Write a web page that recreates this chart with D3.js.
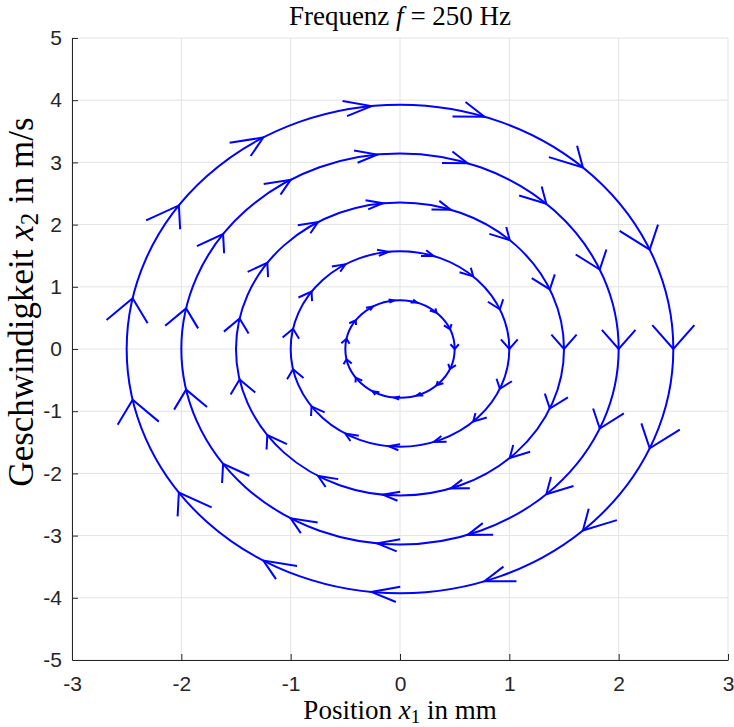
<!DOCTYPE html>
<html>
<head>
<meta charset="utf-8">
<title>Frequenz f = 250 Hz</title>
<script src="https://cdn.jsdelivr.net/npm/d3@7"></script>
<style>
body { margin: 0; background: #fff; }
.tick text { font-family: "Liberation Sans", Arial, sans-serif; }
.tex { font-family: "Liberation Serif", "Times New Roman", serif; fill: #000; }
</style>
</head>
<body>
<svg id="chart" width="734" height="727"></svg>
<script>
// amplitudes of the five trajectories
var positionAmp = [0.5, 1.0, 1.5, 2.0, 2.5];          // x1 in mm
var velocityAmp = [0.785, 1.571, 2.356, 3.142, 3.927]; // x2 in m/s
// where the arrow heads sit on every trajectory (phase angle in degrees)
var arrowPhase = [0, 24, 48, 72, 96, 120, 144, 168, 192, 216, 240, 264, 288, 312, 336];
var xTicks = [-3, -2, -1, 0, 1, 2, 3];
var yTicks = [-5, -4, -3, -2, -1, 0, 1, 2, 3, 4, 5];

var svg = d3.select('#chart');
var xs = d3.scaleLinear().domain([-3, 3]).range([72, 728]);
var ys = d3.scaleLinear().domain([-5, 5]).range([660, 38]);

// grid
svg.append('g').selectAll('line').data(xTicks).enter().append('line')
  .attr('x1', d => xs(d)).attr('x2', d => xs(d))
  .attr('y1', ys(-5)).attr('y2', ys(5))
  .attr('stroke', '#e3e3e3').attr('stroke-width', 1);
svg.append('g').selectAll('line').data(yTicks).enter().append('line')
  .attr('y1', d => ys(d)).attr('y2', d => ys(d))
  .attr('x1', xs(-3)).attr('x2', xs(3))
  .attr('stroke', '#e3e3e3').attr('stroke-width', 1);

// axes (ticks pointing inwards)
var xAxis = svg.append('g')
  .attr('transform', 'translate(0,' + ys(-5) + ')')
  .call(d3.axisBottom(xs).tickValues(xTicks).tickSizeInner(-6).tickSizeOuter(0).tickPadding(16)
    .tickFormat(d => String(d)));
var yAxis = svg.append('g')
  .attr('transform', 'translate(' + xs(-3) + ',0)')
  .call(d3.axisLeft(ys).tickValues(yTicks).tickSizeInner(-6).tickSizeOuter(0).tickPadding(10)
    .tickFormat(d => String(d)));
[xAxis, yAxis].forEach(function(a) {
  a.select('.domain').attr('stroke', '#262626');
  a.selectAll('.tick line').attr('stroke', '#262626');
  a.selectAll('.tick text').attr('fill', '#262626').style('font-size', '21px');
});
// the corner ends of the axes carry no tick mark in the reference
xAxis.selectAll('.tick').filter(d => d === -3).select('line').remove();
yAxis.selectAll('.tick').filter(d => d === -5).select('line').remove();

// trajectories
var rings = positionAmp.map((a, i) => ({a: a, v: velocityAmp[i]}));
var plot = svg.append('g');
plot.selectAll('ellipse').data(rings).enter().append('ellipse')
  .attr('cx', xs(0)).attr('cy', ys(0))
  .attr('rx', d => xs(d.a) - xs(0))
  .attr('ry', d => ys(0) - ys(d.v))
  .attr('fill', 'none').attr('stroke', '#0000ff').attr('stroke-width', 2);

// arrow heads (quiver style, size follows the local speed)
var heads = [];
rings.forEach(function(r) {
  arrowPhase.forEach(function(p) {
    var t = p * Math.PI / 180;
    var px = r.a * Math.cos(t), py = r.v * Math.sin(t);
    var u = r.a * Math.sin(t), w = -r.v * Math.cos(t);
    heads.push({px: px, py: py, u: u, w: w});
  });
});
var back = 0.098, half = 0.049;
plot.selectAll('path.head').data(heads).enter().append('path')
  .attr('class', 'head')
  .attr('d', function(d) {
    var b1x = d.px - back * d.u + half * d.w, b1y = d.py - back * d.w - half * d.u;
    var b2x = d.px - back * d.u - half * d.w, b2y = d.py - back * d.w + half * d.u;
    return 'M' + xs(b1x) + ',' + ys(b1y) + 'L' + xs(d.px) + ',' + ys(d.py) + 'L' + xs(b2x) + ',' + ys(b2y);
  })
  .attr('fill', 'none').attr('stroke', '#0000ff').attr('stroke-width', 2)
  .attr('stroke-linejoin', 'miter');

// title and labels
var title = svg.append('text').attr('class', 'tex')
  .attr('x', 400).attr('y', 25).attr('text-anchor', 'middle').style('font-size', '27px');
title.append('tspan').text('Frequenz ');
title.append('tspan').style('font-style', 'italic').text('f');
title.append('tspan').text(' = 250 Hz');

var xl = svg.append('text').attr('class', 'tex')
  .attr('x', 400).attr('y', 719).attr('text-anchor', 'middle').style('font-size', '27px');
xl.append('tspan').text('Position ');
xl.append('tspan').style('font-style', 'italic').text('x');
xl.append('tspan').attr('dy', 4).style('font-size', '19px').text('1');
xl.append('tspan').attr('dy', -4).text(' in mm');

var yl = svg.append('text').attr('class', 'tex')
  .attr('transform', 'translate(33,302) rotate(-90)').attr('text-anchor', 'middle').style('font-size', '35px');
yl.append('tspan').text('Geschwindigkeit ');
yl.append('tspan').style('font-style', 'italic').text('x');
yl.append('tspan').attr('dy', 5).style('font-size', '25px').text('2');
yl.append('tspan').attr('dy', -5).text(' in m/s');
</script>
</body>
</html>
